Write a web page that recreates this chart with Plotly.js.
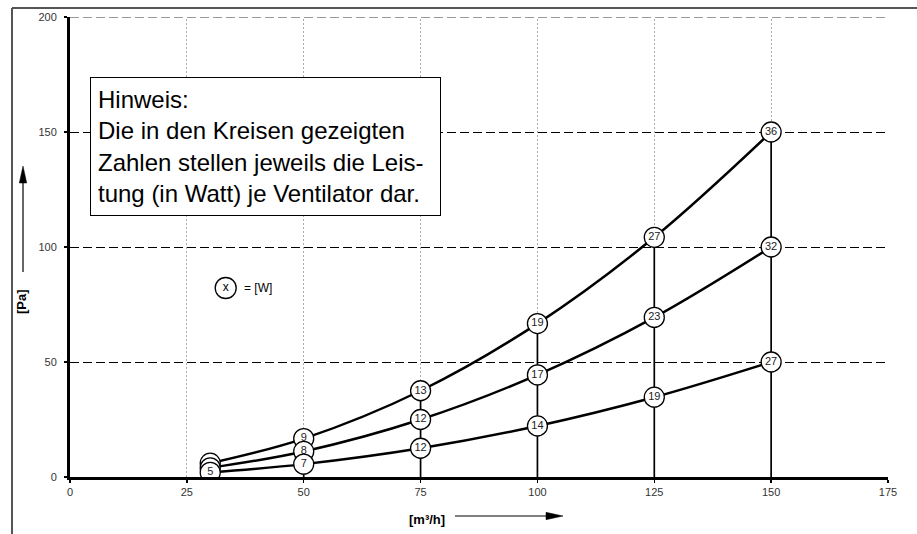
<!DOCTYPE html>
<html>
<head>
<meta charset="utf-8">
<script src="https://cdn.plot.ly/plotly-3.0.1.min.js"></script>
<style>html,body{margin:0;padding:0;background:#fff;}#chart{width:917px;height:534px;}</style>
</head>
<body>
<div id="chart"></div>
<script>
// ---- data ----
const flow = [30, 50, 75, 100, 125, 150];               // [m³/h]
const pressureHigh = [6, 16.7, 37.5, 66.7, 104.2, 150]; // [Pa]
const pressureMid  = [4, 11.1, 25, 44.4, 69.4, 100];
const pressureLow  = [2, 5.6, 12.5, 22.2, 34.7, 50];
const powerHigh = [6, 9, 13, 19, 27, 36];               // [W]
const powerMid  = [5, 8, 12, 17, 23, 32];
const powerLow  = [5, 7, 12, 14, 19, 27];
const xTicks = [0, 25, 50, 75, 100, 125, 150, 175];
const yTicks = [0, 50, 100, 150, 200];
const xGridVals = [25, 50, 75, 100, 125, 150];
const yGridVals = [50, 100, 150];
const noteText = 'Hinweis:<br>Die in den Kreisen gezeigten<br>Zahlen stellen jeweils die Leis-<br>tung (in Watt) je Ventilator dar.';
const keySymbol = ['x'];
const keyText = '= [W]';
const xTitle = '[m³/h]';
const yTitle = '[Pa]';

const FONT = 'Liberation Sans, Arial, sans-serif';
const L = 70, R = 29, T = 17, B = 57, W = 917, H = 534;
const pw = W - L - R, ph = H - T - B;
const px = v => (v - L) / pw;
const py = v => (H - B - v) / ph;

const xMax = xTicks[xTicks.length - 1];
const yMax = yTicks[yTicks.length - 1];
const dx = xMax / pw, dy = yMax / ph; // data units per pixel

// vertical connector lines
const vx = [], vy = [];
flow.forEach((x, i) => { vx.push(x, x, null); vy.push(0, pressureHigh[i], null); });

const lineTrace = (y) => ({
  x: flow, y: y, mode: 'lines', type: 'scatter',
  line: {color: '#000', width: 2.5, shape: 'spline', smoothing: 1},
  hoverinfo: 'skip', showlegend: false
});
const markerTrace = (y, txt) => ({
  x: flow, y: y, mode: 'markers+text', type: 'scatter',
  text: txt.map(String), textposition: 'middle center',
  textfont: {family: FONT, size: 11, color: '#222'},
  marker: {size: 20, color: '#fff', line: {color: '#000', width: 1.3}},
  hoverinfo: 'skip', showlegend: false
});

const traces = [
  {x: vx, y: vy, mode: 'lines', type: 'scatter', line: {color: '#000', width: 1.7}, hoverinfo: 'skip', showlegend: false},
  lineTrace(pressureHigh), lineTrace(pressureMid), lineTrace(pressureLow),
  markerTrace(pressureHigh, powerHigh), markerTrace(pressureMid, powerMid), markerTrace(pressureLow, powerLow),
  // key circle "(x)"
  {x: [(225.7 - L) * dx], y: [(H - B - 288) * dy], mode: 'markers+text', type: 'scatter', text: keySymbol,
   textposition: 'middle center', textfont: {family: FONT, size: 12, color: '#000'},
   marker: {size: 21, color: '#fff', line: {color: '#000', width: 1.3}}, cliponaxis: false,
   hoverinfo: 'skip', showlegend: false}
];

const shapes = [];
xGridVals.forEach(v => shapes.push({type: 'line', xref: 'x', yref: 'y', x0: v, x1: v, y0: 0, y1: yMax,
  line: {color: '#aaa', width: 1, dash: '2px,2px'}, layer: 'below'}));
yGridVals.forEach(v => shapes.push({type: 'line', xref: 'x', yref: 'y', x0: 0, x1: xMax, y0: v, y1: v,
  line: {color: '#000', width: 1, dash: '9px,4px'}, layer: 'below'}));
shapes.push({type: 'line', xref: 'x', yref: 'y', x0: 0, x1: xMax, y0: yMax, y1: yMax,
  line: {color: '#999', width: 1, dash: '9px,4px'}, layer: 'below'});
shapes.push({type: 'line', xref: 'x', yref: 'y', x0: xMax, x1: xMax, y0: 0, y1: yMax,
  line: {color: '#888', width: 1}, layer: 'below'});
// outer frame (left + top edges)
shapes.push({type: 'line', xref: 'paper', yref: 'paper', x0: px(12), x1: px(12), y0: py(8), y1: py(540),
  line: {color: '#555', width: 2}, layer: 'below'});
shapes.push({type: 'line', xref: 'paper', yref: 'paper', x0: px(12), x1: px(925), y0: py(8), y1: py(8),
  line: {color: '#555', width: 2}, layer: 'below'});
const nCrisp = shapes.length;
// axis-title arrows
shapes.push({type: 'line', xref: 'paper', yref: 'paper', x0: px(455), x1: px(550), y0: py(516), y1: py(516),
  line: {color: '#000', width: 1.2}});
shapes.push({type: 'path', xref: 'paper', yref: 'paper',
  path: `M${px(546)},${py(512.3)} L${px(563)},${py(516)} L${px(546)},${py(519.7)} Z`,
  fillcolor: '#000', line: {color: '#000', width: 0.5}});
shapes.push({type: 'line', xref: 'paper', yref: 'paper', x0: px(23), x1: px(23), y0: py(272), y1: py(180),
  line: {color: '#000', width: 1.2}});
shapes.push({type: 'path', xref: 'paper', yref: 'paper',
  path: `M${px(19.3)},${py(183)} L${px(23)},${py(166)} L${px(26.7)},${py(183)} Z`,
  fillcolor: '#000', line: {color: '#000', width: 0.5}});

const annotations = [
  {xref: 'paper', yref: 'paper', x: px(90), y: py(77), xanchor: 'left', yanchor: 'top',
   text: noteText, showarrow: false, align: 'left', valign: 'middle',
   width: 335, height: 123, borderpad: 7, borderwidth: 1, bordercolor: '#000', bgcolor: '#fff',
   font: {family: FONT, size: 24, color: '#000'}},
  {xref: 'paper', yref: 'paper', x: px(242), y: py(288), xanchor: 'left', yanchor: 'middle', text: keyText, showarrow: false,
   font: {family: FONT, size: 12, color: '#000'}},
  {xref: 'paper', yref: 'paper', x: px(427), y: py(519), xanchor: 'center', yanchor: 'middle',
   text: '<b>' + xTitle + '</b>', showarrow: false,
   font: {family: FONT, size: 13, color: '#000'}},
  {xref: 'paper', yref: 'paper', x: px(21), y: py(302), xanchor: 'center', yanchor: 'middle',
   text: '<b>' + yTitle + '</b>', showarrow: false, textangle: -90,
   font: {family: FONT, size: 13, color: '#000'}}
];

const layout = {
  width: W, height: H,
  margin: {l: L, r: R, t: T, b: B, pad: 0},
  paper_bgcolor: '#fff', plot_bgcolor: '#fff',
  font: {family: FONT, size: 11, color: '#333'},
  showlegend: false,
  xaxis: {range: [0, xMax], tickvals: xTicks, ticktext: xTicks.map(String), showgrid: false, zeroline: false,
    showline: true, linecolor: '#000', linewidth: 3, ticks: 'outside', ticklen: 3, tickcolor: '#000', tickwidth: 1.5,
    tickfont: {family: FONT, size: 11, color: '#333'}, fixedrange: true},
  yaxis: {range: [0, yMax], tickvals: yTicks, ticktext: yTicks.map(String), showgrid: false, zeroline: false,
    showline: true, linecolor: '#000', linewidth: 3, ticks: 'outside', ticklen: 3, tickcolor: '#000', tickwidth: 1.5,
    ticklabelstandoff: 5, tickfont: {family: FONT, size: 11, color: '#333'}, fixedrange: true},
  shapes: shapes,
  annotations: annotations
};

Plotly.newPlot('chart', traces, layout, {displayModeBar: false, staticPlot: true}).then(gd => {
  gd.querySelectorAll('.shapelayer path').forEach(p => {
    const idx = Number(p.getAttribute('data-index'));
    if (!isNaN(idx) && idx < nCrisp) p.style.shapeRendering = 'crispEdges';
  });
});
</script>
</body>
</html>
